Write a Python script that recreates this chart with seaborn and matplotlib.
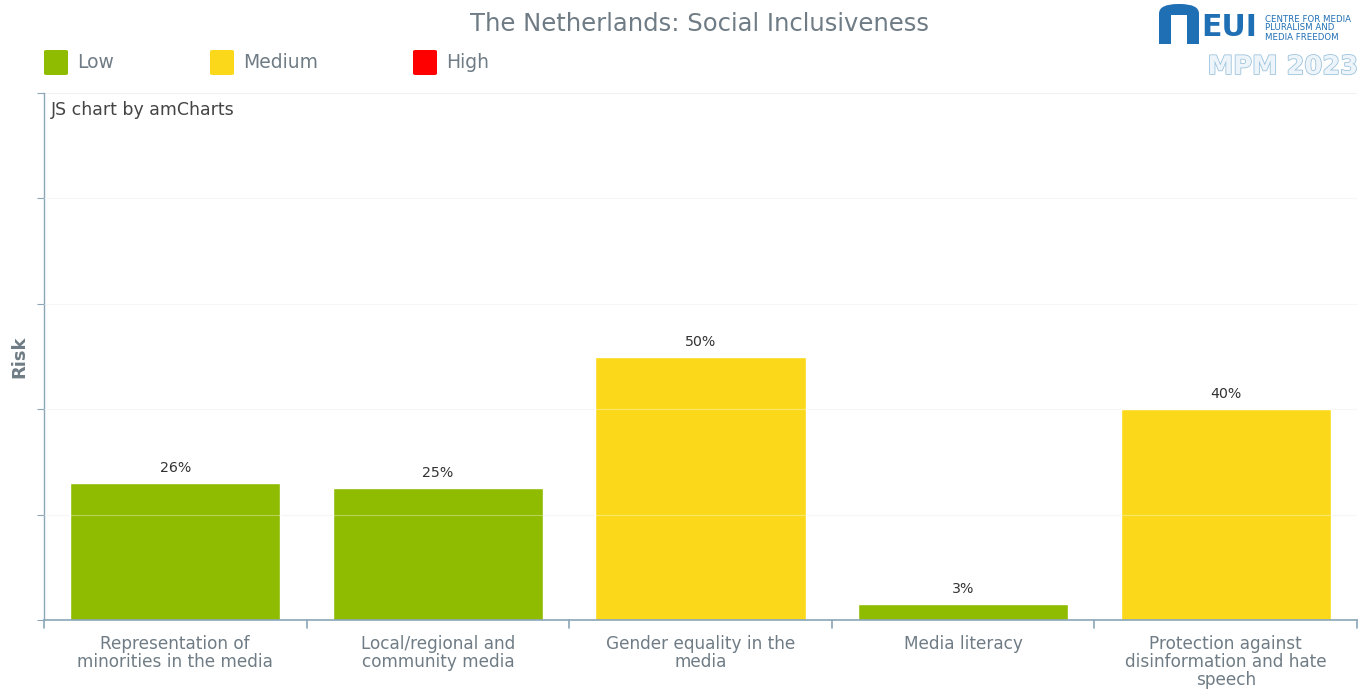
import matplotlib
matplotlib.use("Agg")
import matplotlib.pyplot as plt
import matplotlib.patches as mpatches
import matplotlib.patheffects as pe
import seaborn as sns
import pandas as pd

categories = ["Representation of\nminorities in the media",
              "Local/regional and\ncommunity media",
              "Gender equality in the\nmedia",
              "Media literacy",
              "Protection against\ndisinformation and hate\nspeech"]
values = [26, 25, 50, 3, 40]
levels = ["Low", "Low", "Medium", "Low", "Medium"]
level_names = ["Low", "Medium", "High"]
level_colors = {"Low": "#8FBB00", "Medium": "#FBD91A", "High": "#FF0000"}

df = pd.DataFrame({"cat": categories, "val": values, "level": levels})

sns.set_style("white")
plt.rcParams['font.family'] = ['DejaVu Sans']
txt = "#6F7C85"
axc = "#8AA6B8"

fig = plt.figure(figsize=(13.66, 6.9), dpi=100)
ax = fig.add_axes([44/1366, 70/690, 1313/1366, 527/690])

sns.barplot(data=df, x="cat", y="val", hue="level", palette=level_colors,
            dodge=False, width=0.8, ax=ax, legend=False, saturation=1,
            hue_order=level_names, zorder=2)

ax.set_ylim(0, 100)
ax.set_xlim(-0.5, 4.5)
ax.set_yticks([0, 20, 40, 60, 80, 100])
ax.set_yticklabels([])
ax.grid(False)
for y in [20, 40, 60, 80, 100]:
    ax.axhline(y, color="#F2F2F2", lw=0.8, zorder=1)
for y in [20, 40, 60, 80]:
    ax.axhline(y, color="white", lw=0.8, alpha=0.35, zorder=3)

for s in ["top", "right"]:
    ax.spines[s].set_visible(False)
ax.spines["left"].set_color(axc)
ax.spines["bottom"].set_color(axc)
ax.spines["left"].set_linewidth(1)
ax.spines["bottom"].set_linewidth(1.2)

ax.tick_params(axis="y", length=5, color=axc, direction="out", left=True)
ax.set_xticks([0, 1, 2, 3, 4])
ax.set_xticklabels(categories, fontsize=12.2, color=txt, linespacing=0.98)
ax.tick_params(axis="x", length=0, pad=11)
for b in [-0.5, 0.5, 1.5, 2.5, 3.5, 4.5]:
    ax.plot([b, b], [0, -1.6], color=axc, lw=1.2, clip_on=False, zorder=4)

ax.set_xlabel("")
ax.set_ylabel("Risk", fontsize=13, color=txt, fontweight="bold", labelpad=3)

for i, v in enumerate(values):
    ax.text(i, v + 1.5, f"{v}%", ha="center", va="bottom", fontsize=10.2, color="#333333")

ax.text(0.005, 0.985, "JS chart by amCharts", transform=ax.transAxes,
        fontsize=12.5, color="#444444", ha="left", va="top")

fig.text(699/1366, 1 - 24/690, "The Netherlands: Social Inclusiveness",
         ha="center", va="center", fontsize=17.5, color=txt)

# legend
leg_x = [44, 210, 413]
for name, x in zip(level_names, leg_x):
    fig.patches.append(mpatches.FancyBboxPatch((x/1366, 1 - 75/690), 24/1366, 25/690,
                       boxstyle="round,pad=0,rounding_size=0.002",
                       transform=fig.transFigure, facecolor=level_colors[name],
                       edgecolor="none"))
    fig.text((x + 33)/1366, 1 - 62/690, name, ha="left", va="center",
             fontsize=13.5, color=txt)

# logo
blue = "#1F6FB5"
fig.patches.append(mpatches.FancyBboxPatch((1159/1366, 1 - 44/690), 40/1366, 40/690,
                   boxstyle="round,pad=0,rounding_size=0.014",
                   transform=fig.transFigure, facecolor=blue, edgecolor="none"))
fig.patches.append(mpatches.Rectangle((1159/1366, 1 - 44/690), 40/1366, 12/690,
                   transform=fig.transFigure, facecolor=blue, edgecolor="none"))
fig.patches.append(mpatches.Rectangle((1171/1366, 1 - 44/690), 16/1366, 29/690,
                   transform=fig.transFigure, facecolor="white", edgecolor="none"))
fig.text(1201/1366, 1 - 28/690, "EUI", ha="left", va="center", fontsize=21.5,
         fontweight="bold", color=blue)
fig.text(1265/1366, 1 - 28/690, "CENTRE FOR MEDIA\nPLURALISM AND\nMEDIA FREEDOM",
         ha="left", va="center", fontsize=6.2, color=blue, linespacing=1.0)
t = fig.text(1283/1366, 1 - 67/690, "MPM 2023", ha="center", va="center", fontsize=18.5,
             fontweight="bold", color="#EEF5FA")
t.set_path_effects([pe.withStroke(linewidth=1.2, foreground="#9CC3DD")])

fig.savefig("out.png", dpi=100)
